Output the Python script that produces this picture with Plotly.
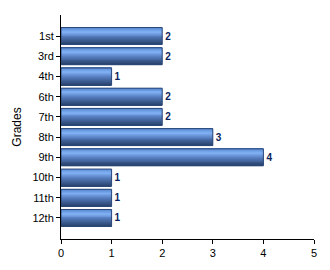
import plotly.graph_objects as go

grades = ["1st", "3rd", "4th", "6th", "7th", "8th", "9th", "10th", "11th", "12th"]
counts = [2, 2, 1, 2, 2, 3, 4, 1, 1, 1]
x_ticks = [0, 1, 2, 3, 4, 5]

def lerp(c1, c2, t):
    return tuple(round(a + (b - a) * t) for a, b in zip(c1, c2))

stops = [(0.0, (80, 128, 200)), (0.28, (130, 178, 246)), (0.55, (85, 125, 190)), (1.0, (40, 66, 108))]

def grad(t):
    for (t0, c0), (t1, c1) in zip(stops[:-1], stops[1:]):
        if t <= t1:
            return "rgb(%d,%d,%d)" % lerp(c0, c1, (t - t0) / (t1 - t0))
    return "rgb(%d,%d,%d)" % stops[-1][1]

bar_w = 0.84
n = 18
fig = go.Figure()
for i in range(n):
    w = bar_w / n
    fig.add_trace(go.Bar(
        x=counts, y=grades, orientation="h",
        width=w * 1.15, offset=-bar_w / 2 + i * w,
        marker=dict(color=grad((i + 0.5) / n), line=dict(width=0)),
        hoverinfo="skip", showlegend=False,
    ))
fig.add_trace(go.Bar(
    x=counts, y=grades, orientation="h",
    width=bar_w, offset=-bar_w / 2,
    marker=dict(color="rgba(0,0,0,0)", line=dict(color="#2c4878", width=1)),
    text=[str(c) for c in counts], textposition="outside",
    textfont=dict(family="Liberation Sans, Arial", size=10, color="#0a1e5a"),
    texttemplate="<b>%{text}</b>", cliponaxis=False,
    showlegend=False,
))

fig.update_layout(
    width=330, height=270,
    margin=dict(l=61, r=16, t=15, b=31),
    barmode="overlay",
    plot_bgcolor="white", paper_bgcolor="white",
    font=dict(family="Liberation Sans, Arial", size=11, color="black"),
    uniformtext=dict(mode=False),
)
fig.update_xaxes(
    range=[0, 5], tickvals=x_ticks, showgrid=False, zeroline=False,
    showline=True, linecolor="black", linewidth=1,
    ticks="outside", ticklen=4, tickcolor="black",
    tickfont=dict(size=11),
)
fig.update_yaxes(
    categoryorder="array", categoryarray=grades,
    range=[len(grades) - 1 + 1.04, -1.04],
    showgrid=False, zeroline=False,
    showline=True, linecolor="black", linewidth=1,
    ticks="outside", ticklen=4, tickcolor="black",
    tickfont=dict(size=11),
    title=dict(text="Grades", font=dict(size=12), standoff=8),
)

fig.write_html("out.html")
